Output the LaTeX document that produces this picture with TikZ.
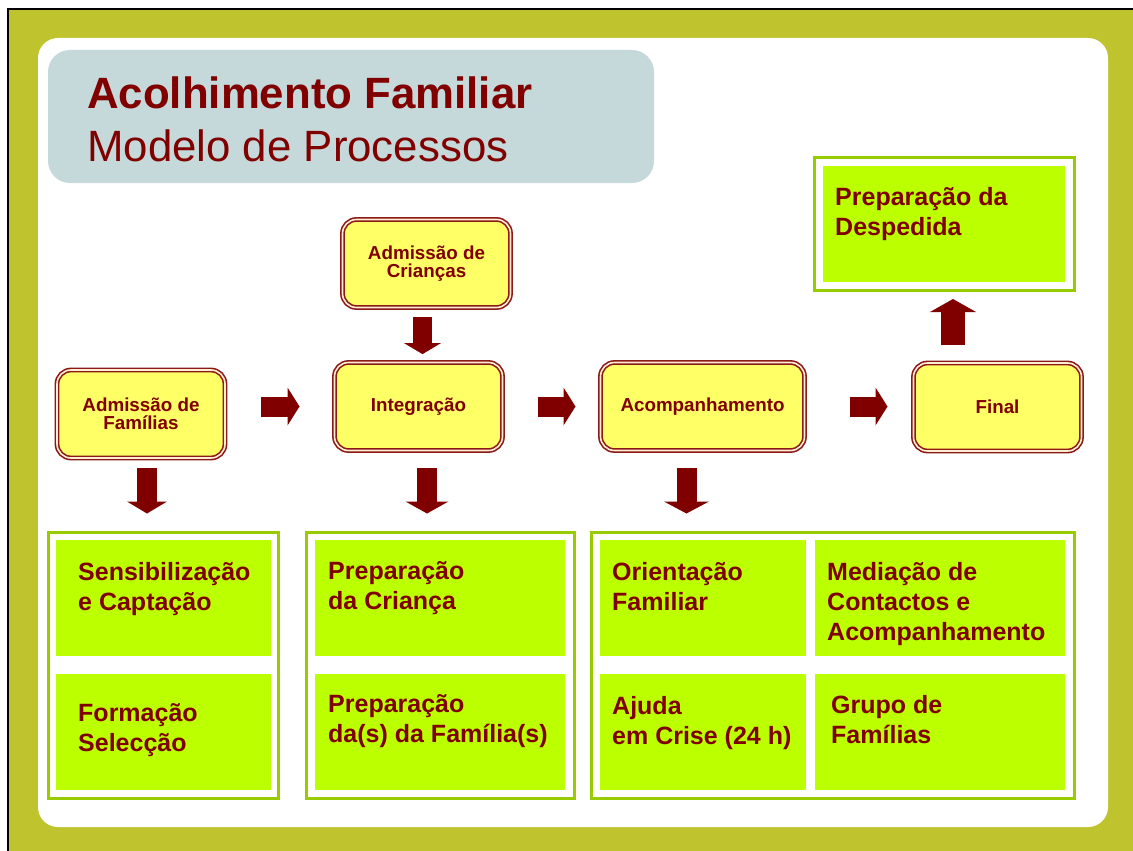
\documentclass[tikz,border=0pt]{standalone}
\usepackage{fontspec}
\setmainfont{Liberation Sans}
\usetikzlibrary{arrows.meta,positioning}

\definecolor{olivebg}{RGB}{190,195,46}
\definecolor{titlegray}{RGB}{197,216,218}
\definecolor{textred}{RGB}{128,0,0}
\definecolor{procred}{RGB}{140,24,24}
\definecolor{procgap}{RGB}{255,238,210}
\definecolor{procyellow}{RGB}{255,255,102}
\definecolor{framegreen}{RGB}{153,204,0}
\definecolor{taskgreen}{RGB}{187,255,0}

\begin{document}
\begin{tikzpicture}[
        x=1pt, y=-1pt,
        blk/.style={draw=textred, line width=20pt,
            -{Triangle[width=38pt,length=12pt,line width=0pt]}}
    ]

    \tikzstyle{titlebox} = [
        fill = titlegray,
        rounded corners = 22pt,
        minimum width = 606pt, minimum height = 133pt,
        inner sep = 0pt, outer sep = 0pt
    ]
    \tikzstyle{titletext} = [
        anchor = base west, align = left, inner sep = 0pt,
        text = textred,
        font = \fontsize{43.8}{53}\selectfont
    ]
    \tikzstyle{proc} = [
        draw = procred, line width = 1.6pt,
        double = procgap, double distance = 1.6pt,
        fill = procyellow, rounded corners = 14pt,
        minimum width = 168pt, minimum height = 88pt,
        inner sep = 0pt, outer sep = 0pt,
        align = center, text = textred,
        font = \bfseries\fontsize{18.8}{17.5}\selectfont
    ]
    \tikzstyle{frame} = [
        draw = framegreen, line width = 3pt,
        minimum height = 266pt,
        inner sep = 0pt, outer sep = 0pt
    ]
    \tikzstyle{task} = [
        fill = taskgreen,
        minimum height = 116pt,
        inner sep = 0pt, outer sep = 0pt
    ]
    % base anchor sits on the last line
    \tikzstyle{tasktext} = [
        anchor = base west, align = left, inner sep = 0pt,
        text = textred,
        font = \bfseries\fontsize{25}{30}\selectfont
    ]

    \useasboundingbox (0,0) rectangle (1133,851);

    % background
    \fill[olivebg] (8,9) rectangle (1133,851);
    \draw[black, line width=1.2pt] (8,851) -- (8,9) -- (1133,9);
    \fill[white, rounded corners=20pt] (38,38) rectangle (1108,827);

    % title
    \node [titlebox] (title) at (351,116.5) {};
    \node [titletext] at ([xshift=39pt,yshift=-111pt]title.north west)
        {\textbf{Acolhimento Familiar}\\Modelo de Processos};

    % processes
    \node [proc] (fam) at (141,414) {Admissão de\\Famílias};
    \node [proc] (cri) at (426.5,263.5) {Admissão de\\Crianças};
    \node [proc] (integ) at (418.5,406.5) {Integração};
    \node [proc, minimum width=204pt] (acomp) at (702.5,406.5) {Acompanhamento};
    \node [proc] (final) at (997.5,407) {Final};

    % frames
    \node [frame, minimum width=230pt] (famframe) at (163.5,665) {};
    \node [frame, minimum width=268pt] (prepframe) at (440.5,665) {};
    \node [frame, minimum width=483pt] (acompframe) at (833,665) {};
    \node [frame, minimum width=260pt, minimum height=133pt] (despframe) at (944.5,224) {};

    % tasks
    \node [task, minimum width=215pt] (sens) at (163.5,598) {};
    \node [task, minimum width=215pt] (form) at (163.5,732) {};
    \node [task, minimum width=250pt] (prepc) at (440,598) {};
    \node [task, minimum width=250pt] (prepf) at (440,732) {};
    \node [task, minimum width=206pt] (orient) at (703,598) {};
    \node [task, minimum width=250pt] (media) at (940,598) {};
    \node [task, minimum width=206pt] (ajuda) at (703,732) {};
    \node [task, minimum width=250pt] (grupo) at (940,732) {};
    \node [task, minimum width=242pt] (desp) at (944,224) {};

    \node [tasktext] at ([xshift=22pt,yshift=-70pt]sens.north west) {Sensibilização\\e Captação};
    \node [tasktext] at ([xshift=22pt,yshift=-77pt]form.north west) {Formação\\Selecção};
    \node [tasktext] at ([xshift=13pt,yshift=-69pt]prepc.north west) {Preparação\\da Criança};
    \node [tasktext] at ([xshift=13pt,yshift=-68pt]prepf.north west) {Preparação\\da(s) da Família(s)};
    \node [tasktext] at ([xshift=12pt,yshift=-70pt]orient.north west) {Orientação\\Familiar};
    \node [tasktext] at ([xshift=12pt,yshift=-100pt]media.north west) {Mediação de\\Contactos e\\Acompanhamento};
    \node [tasktext] at ([xshift=12pt,yshift=-70pt]ajuda.north west) {Ajuda\\em Crise (24 h)};
    \node [tasktext] at ([xshift=16pt,yshift=-69pt]grupo.north west) {Grupo de\\Famílias};
    \node [tasktext] at ([xshift=12pt,yshift=-69pt]desp.north west) {Preparação da\\Despedida};

    % arrows
    \draw [blk, shorten <=36pt, shorten >=35pt] (fam.east |- integ.west) -- (integ.west);
    \draw [blk, shorten <=35pt, shorten >=25pt] (integ.east) -- (acomp.west);
    \draw [blk, shorten <=45pt, shorten >=26pt] (acomp.east) -- (acomp.east -| final.west);
    \draw [blk, -{Triangle[width=40pt,length=12pt,line width=0pt]}, shorten <=10pt, shorten >=18.5pt]
        ([xshift=6pt]fam.south) -- ([xshift=6pt]fam.south |- famframe.north);
    \draw [blk, -{Triangle[width=43pt,length=12pt,line width=0pt]}, shorten <=17.4pt, shorten >=18.5pt]
        ([xshift=8.5pt]integ.south) -- ([xshift=8.5pt]integ.south |- prepframe.north);
    \draw [blk, -{Triangle[width=45pt,length=12pt,line width=0pt]}, shorten <=17.4pt, shorten >=18.5pt]
        ([xshift=-16pt]acomp.south) -- ([xshift=-16pt]acomp.south |- acompframe.north);
    \draw [blk, line width=19pt, -{Triangle[width=37pt,length=11pt,line width=0pt]}, shorten <=9.4pt, shorten >=8.4pt]
        ([xshift=-4pt]cri.south) -- ([xshift=-4pt]cri.south |- integ.north);
    \draw [blk, line width=24pt, -{Triangle[width=46pt,length=13pt,line width=0pt]}, shorten <=18.4pt, shorten >=8.5pt]
        ([xshift=-44.5pt]final.north) -- ([xshift=-44.5pt]final.north |- despframe.south);
\end{tikzpicture}
\end{document}
